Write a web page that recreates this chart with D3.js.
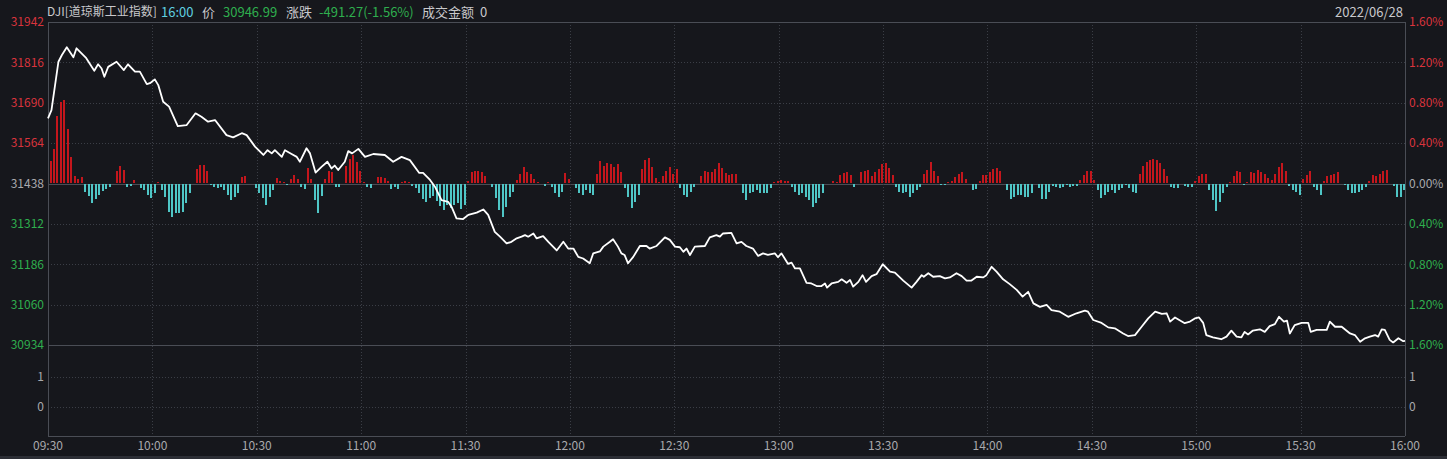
<!DOCTYPE html>
<html><head><meta charset="utf-8">
<script src="https://cdn.jsdelivr.net/npm/d3@7"></script>
<style>html,body{margin:0;padding:0;background:#16171c;overflow:hidden}</style>
</head><body><svg id="c" width="1447" height="459"></svg>
<script>
// ---------- data ----------
const symbolLabel = "DJI[道琼斯工业指数]";
const timeLabel = "16:00";
const priceCaption = "价";
const lastPrice = "30946.99";
const changeCaption = "涨跌";
const changeText = "-491.27(-1.56%)";
const amountCaption = "成交金额";
const amountText = "0";
const dateText = "2022/06/28";
const prevClose = 31438.26;

const priceTicks = [31942, 31816, 31690, 31564, 31438, 31312, 31186, 31060, 30934];
const pctTicks = ["1.60%", "1.20%", "0.80%", "0.40%", "0.00%", "0.40%", "0.80%", "1.20%", "1.60%"];
const volTicks = [1, 0];
const timeTicks = ["09:30","10:00","10:30","11:00","11:30","12:00","12:30","13:00","13:30","14:00","14:30","15:00","15:30","16:00"];
const amounts = [0];

const lineMinutes = [0,1,3,4,5.4,7.3,8.2,11,13.3,14.4,15.4,16.2,17.3,19.7,21.8,23,25,26.4,28.4,29.3,30.7,31.7,33.1,34.8,37.3,39.8,42.4,44.1,46,48,51.3,53.2,55.7,57.1,59.5,61.9,63.1,64.3,65.2,67.2,68.1,70,71.5,72.4,74.3,75.3,76.9,78.6,80.3,81.5,82.4,83.4,85.3,86.3,87.4,89.2,91.1,93.5,96.8,99.2,101.6,104,106.7,107.8,109.8,111.2,113.1,115,116,117.4,119.3,120.8,123.2,125.1,126.5,128.4,129.9,131.8,133.2,134.7,136.1,137.1,138,139.5,140.4,142.3,143.8,146.2,148.1,149.5,151,152.4,153.8,155.7,156.7,158.6,159.6,161.5,162.4,163.8,164.8,165.7,166.7,168.2,170.1,172,172.9,174.9,177.3,178.7,180.2,181.6,182.6,183.5,184.5,185.9,188.8,190.2,192.1,193.1,194,196.4,197.9,199.3,200.7,202.6,204.1,205.5,206.9,208.9,209.8,210.8,212.7,213.7,214.7,216.1,218,219.4,220.9,222.3,223.3,223.9,225.2,227.1,228.1,229.5,230.5,231.4,232.9,234.1,235.1,236.7,238.1,239.9,242,243.4,245.8,248.2,249.6,251.1,251.7,253,254.4,256.3,257.8,259.2,261.1,262.6,264,265.4,266.9,268.8,269.7,271.2,272.6,274.5,276.4,278.4,280.1,281.7,283.2,285.1,287,288.4,290.8,293.2,295.6,298,298.9,300.4,302.8,304.7,306.6,309,310.4,312.4,314.3,316.2,318.2,320.1,321.5,322.5,323.9,326.7,328.2,329.6,330.8,332,332.9,334.8,337.2,338.7,340.1,341.6,343,343.9,344.9,346.3,348.3,349.7,351.1,352.6,353.8,355.2,356.1,356.9,358.3,360.3,362.2,362.9,364.6,367.5,368.4,369.9,371.8,374.2,375.6,377.1,378.5,379.9,381.4,382.3,383.3,384.2,385.6,386.6,388.1,389.5,390];
const linePrices = [31641,31667,31818,31839,31863,31832,31860,31829,31790,31810,31797,31771,31802,31818,31792,31810,31787,31787,31748,31751,31763,31745,31693,31678,31617,31620,31657,31646,31631,31636,31589,31582,31595,31589,31553,31527,31542,31532,31542,31521,31542,31530,31521,31506,31548,31532,31472,31490,31506,31485,31494,31480,31506,31539,31532,31546,31521,31530,31527,31506,31521,31511,31471,31471,31449,31428,31386,31381,31365,31329,31327,31340,31347,31357,31340,31287,31272,31251,31256,31267,31272,31277,31272,31282,31267,31274,31256,31229,31256,31235,31235,31209,31204,31189,31220,31226,31241,31256,31264,31241,31220,31215,31189,31209,31243,31243,31235,31243,31270,31262,31241,31239,31225,31235,31215,31241,31243,31270,31277,31272,31282,31284,31251,31256,31243,31235,31212,31220,31215,31220,31208,31220,31187,31191,31173,31173,31128,31126,31118,31118,31126,31113,31126,31131,31139,31128,31137,31116,31131,31152,31131,31149,31155,31186,31163,31160,31135,31113,31131,31152,31147,31158,31147,31149,31142,31145,31158,31149,31135,31135,31147,31145,31152,31178,31163,31139,31124,31106,31085,31100,31064,31053,31059,31043,31038,31022,31033,31041,31038,31012,31003,30989,30986,30970,30962,30965,30991,31017,31038,31031,31033,31007,31020,31002,31007,31017,31020,31003,30965,30958,30952,30960,30979,30960,30958,30975,30967,30979,30983,30975,30993,30999,31022,31007,31010,30970,30996,31003,31003,30975,30981,30981,31007,30991,30991,30970,30965,30944,30955,30960,30965,30960,30983,30981,30950,30942,30955,30946,30946.99];

const barValues = [
22,34,67,81,83,54,26,7,4,6,
-8,-12,-19,-15,-11,-7,-5,-3,0,12,
17,13,-3,-2,3,0,-4,-6,-11,-14,
-9,1,-6,-13,-28,-33,-29,-29,-28,-19,
-9,0,14,18,18,12,-1,-3,-4,-3,
-6,-11,-16,-13,-9,6,7,0,0,-4,
-9,-14,-21,-13,-6,5,2,1,-1,4,
8,4,-3,-5,15,4,-16,-29,-12,4,
12,11,-3,-3,0,17,24,28,21,12,
1,-3,-4,0,6,6,5,2,-5,-3,
-5,1,2,1,-2,-4,-9,-15,-18,-14,
-12,-17,-22,-26,-21,-24,-21,-19,-25,-21,
2,11,12,12,11,7,0,-3,-14,-26,
-33,-23,-13,-8,3,9,16,11,9,4,
1,0,-2,1,-3,-9,-13,-8,10,4,
0,-4,-9,-11,-6,-9,-11,9,22,17,
20,19,16,19,11,-4,-13,-24,-18,-11,
14,23,25,16,5,1,7,12,16,9,
14,-4,-11,-13,-8,-3,0,7,12,11,
11,14,20,15,10,8,9,9,0,-9,
-16,-9,-8,-6,-9,-9,-9,-4,1,2,
3,2,2,-3,-8,-11,-9,-13,-16,-23,
-19,-14,-9,0,0,2,1,8,10,11,
8,-3,0,11,12,13,7,11,14,19,
20,15,8,-3,-8,-9,-8,-13,-9,-6,
-3,9,13,21,12,7,-1,-1,1,2,
6,9,11,4,0,-6,-5,2,8,8,
11,14,15,12,0,-6,-15,-13,-11,-11,
-13,-13,-9,0,-4,-15,-15,-8,-2,-3,
-4,-3,-1,-3,-2,-2,3,8,12,12,
3,-6,-14,-11,-8,-6,-9,-6,-4,-1,
-4,-8,-9,9,17,21,23,24,23,20,
14,7,-3,-4,-4,0,-2,-3,-3,2,
7,9,9,-6,-16,-27,-18,-9,-3,1,
7,12,11,-1,1,11,10,13,11,9,
5,3,9,16,20,12,-2,-6,-8,-11,
4,8,12,-3,-6,-11,2,7,8,9,
11,0,-1,-6,-9,-9,-8,-6,-3,2,
8,7,9,12,13,0,-2,-13,-13,-6
];

// ---------- layout ----------
const W = 1447, H = 459;
const L = 48, R = 1405, T = 22, PB = 345, VB = 436;
const C = {
  bg: "#16171c", grid: "#3b3e46", frame: "#4a4d55", txt: "#a9a9ad",
  red: "#d9343d", green: "#2fae4e", cyan: "#5fd0e0", barUp: "#c4161c", barDn: "#4fc6c6"
};
const FONT = "'Noto Sans CJK SC','Liberation Sans',Arial,sans-serif";

const svg = d3.select("#c");
svg.append("rect").attr("width", W).attr("height", H).attr("fill", C.bg);
svg.append("rect").attr("x", 0).attr("y", 456).attr("width", W).attr("height", 3).attr("fill", "#2c2e35");

const x = d3.scaleLinear().domain([0, 390]).range([L, R]);
const y = d3.scaleLinear().domain([priceTicks[priceTicks.length - 1], priceTicks[0]]).range([PB, T]);
const yBase = y(prevClose);
const yBar = d3.scaleLinear().domain([0, 100]).range([yBase, yBase - 100]);
const yVol = d3.scaleLinear().domain([0, 1]).range([407, 377]);

const g = svg.append("g").attr("shape-rendering", "crispEdges");
// horizontal grids
priceTicks.forEach((p, i) => {
  if (i === 0 || i === priceTicks.length - 1) return;
  const yy = Math.round(y(p)) + 0.5;
  const solid = (i === 4);
  g.append("line").attr("x1", L).attr("x2", R).attr("y1", yy).attr("y2", yy)
    .attr("stroke", solid ? C.frame : C.grid).attr("stroke-dasharray", solid ? null : "1,2");
});
volTicks.forEach(v => {
  const yy = Math.round(yVol(v)) + 0.5;
  g.append("line").attr("x1", L).attr("x2", R).attr("y1", yy).attr("y2", yy)
    .attr("stroke", C.grid).attr("stroke-dasharray", "1,2");
});
// vertical grids
timeTicks.forEach((t, i) => {
  if (i === 0 || i === timeTicks.length - 1) return;
  const xx = Math.round(x(i * 30)) + 0.5;
  g.append("line").attr("x1", xx).attr("x2", xx).attr("y1", T).attr("y2", VB)
    .attr("stroke", C.grid).attr("stroke-dasharray", "1,2");
});
// frame
const fr = [[L, T, R, T], [L, T, L, VB], [R, T, R, VB], [L, VB, R, VB], [L, Math.round(y(priceTicks[8])), R, Math.round(y(priceTicks[8]))]];
fr.forEach(f => g.append("line").attr("x1", f[0] + (f[0] === f[2] ? 0.5 : 0)).attr("x2", f[2] + (f[0] === f[2] ? 0.5 : 0))
  .attr("y1", f[1] + (f[1] === f[3] ? 0.5 : 0)).attr("y2", f[3] + (f[1] === f[3] ? 0.5 : 0)).attr("stroke", C.frame));

// bars
g.append("g").selectAll("rect").data(barValues).join("rect")
  .attr("x", (d, i) => Math.round(x(i) + 1.5))
  .attr("width", 2)
  .attr("y", d => d >= 0 ? yBar(d) : yBase + 1)
  .attr("height", d => Math.abs(yBar(d) - yBase))
  .attr("fill", d => d >= 0 ? C.barUp : C.barDn);

// price line
const pts = lineMinutes.map((m, i) => [m, linePrices[i]]);
svg.append("path").datum(pts)
  .attr("d", d3.line().x(d => x(d[0])).y(d => y(d[1])))
  .attr("fill", "none").attr("stroke", "#ffffff").attr("stroke-width", 1.8)
  .attr("stroke-linejoin", "round");

// axis labels
const txt = svg.append("g").attr("font-family", FONT).attr("font-size", 12);
priceTicks.forEach((p, i) => {
  const col = i < 4 ? C.red : (i === 4 ? C.txt : C.green);
  txt.append("text").attr("x", 44).attr("y", y(p)).attr("dy", "0.36em").attr("text-anchor", "end")
    .attr("fill", col).text(p);
  txt.append("text").attr("x", 1409).attr("y", y(p)).attr("dy", "0.36em").attr("text-anchor", "start")
    .attr("fill", col).text(pctTicks[i]);
});
volTicks.forEach(v => {
  txt.append("text").attr("x", 44).attr("y", yVol(v)).attr("dy", "0.36em").attr("text-anchor", "end").attr("fill", C.txt).text(v);
  txt.append("text").attr("x", 1409).attr("y", yVol(v)).attr("dy", "0.36em").attr("text-anchor", "start").attr("fill", C.txt).text(v);
});
timeTicks.forEach((t, i) => {
  txt.append("text").attr("x", x(i * 30)).attr("y", 446).attr("dy", "0.36em").attr("text-anchor", "middle")
    .attr("fill", C.txt).text(t);
});

// header
const hd = svg.append("g").attr("font-family", FONT).attr("font-size", 13);
const headerItems = [
  [47, symbolLabel, "#c9c9cc", 12], [161, timeLabel, C.cyan, 13], [202, priceCaption, "#c9c9cc", 13],
  [223, lastPrice, C.green, 13], [286, changeCaption, "#c9c9cc", 13], [319, changeText, C.green, 13],
  [422, amountCaption, "#c9c9cc", 13], [480, amountText, "#c9c9cc", 13]
];
headerItems.forEach(h => hd.append("text").attr("x", h[0]).attr("y", 12).attr("dy", "0.36em")
  .attr("font-size", h[3]).attr("fill", h[2]).text(h[1]));
hd.append("text").attr("x", 1403).attr("y", 12).attr("dy", "0.36em").attr("text-anchor", "end").attr("fill", "#c9c9cc").text(dateText);
</script>
</body></html>
